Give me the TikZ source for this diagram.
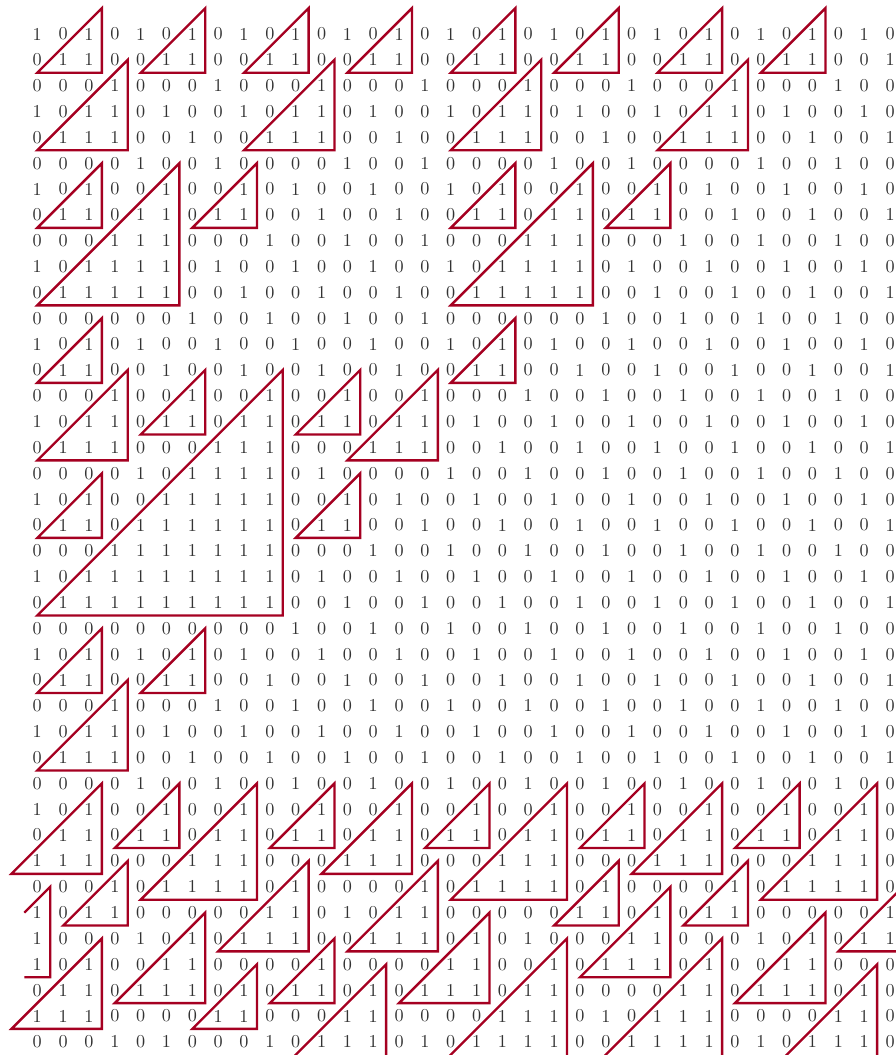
\documentclass[tikz,border=0pt]{standalone}
\usepackage{xcolor}
\usepackage{tikz}
\definecolor{trired}{HTML}{A50021}
\definecolor{bitgrey}{HTML}{333333}

\begin{document}
\begin{tikzpicture}[x=0.5cm, y=-0.5cm,
    bit/.style={inner sep=0pt, text=bitgrey},
    tri/.style={draw=trired, line width=1.3pt}]

  % ---- frame: the margins round the grid of bits --------------------------
  \useasboundingbox (-0.443,-0.316) rectangle (34.23,40.51);

  % ---- the bits, one row of 34 per line ------------------------------------
  \foreach \bits [count=\r] in {
    {1,0,1,0,1,0,1,0,1,0,1,0,1,0,1,0,1,0,1,0,1,0,1,0,1,0,1,0,1,0,1,0,1,0},
    {0,1,1,0,0,1,1,0,0,1,1,0,0,1,1,0,0,1,1,0,0,1,1,0,0,1,1,0,0,1,1,0,0,1},
    {0,0,0,1,0,0,0,1,0,0,0,1,0,0,0,1,0,0,0,1,0,0,0,1,0,0,0,1,0,0,0,1,0,0},
    {1,0,1,1,0,1,0,0,1,0,1,1,0,1,0,0,1,0,1,1,0,1,0,0,1,0,1,1,0,1,0,0,1,0},
    {0,1,1,1,0,0,1,0,0,1,1,1,0,0,1,0,0,1,1,1,0,0,1,0,0,1,1,1,0,0,1,0,0,1},
    {0,0,0,0,1,0,0,1,0,0,0,0,1,0,0,1,0,0,0,0,1,0,0,1,0,0,0,0,1,0,0,1,0,0},
    {1,0,1,0,0,1,0,0,1,0,1,0,0,1,0,0,1,0,1,0,0,1,0,0,1,0,1,0,0,1,0,0,1,0},
    {0,1,1,0,1,1,0,1,1,0,0,1,0,0,1,0,0,1,1,0,1,1,0,1,1,0,0,1,0,0,1,0,0,1},
    {0,0,0,1,1,1,0,0,0,1,0,0,1,0,0,1,0,0,0,1,1,1,0,0,0,1,0,0,1,0,0,1,0,0},
    {1,0,1,1,1,1,0,1,0,0,1,0,0,1,0,0,1,0,1,1,1,1,0,1,0,0,1,0,0,1,0,0,1,0},
    {0,1,1,1,1,1,0,0,1,0,0,1,0,0,1,0,0,1,1,1,1,1,0,0,1,0,0,1,0,0,1,0,0,1},
    {0,0,0,0,0,0,1,0,0,1,0,0,1,0,0,1,0,0,0,0,0,0,1,0,0,1,0,0,1,0,0,1,0,0},
    {1,0,1,0,1,0,0,1,0,0,1,0,0,1,0,0,1,0,1,0,1,0,0,1,0,0,1,0,0,1,0,0,1,0},
    {0,1,1,0,0,1,0,0,1,0,0,1,0,0,1,0,0,1,1,0,0,1,0,0,1,0,0,1,0,0,1,0,0,1},
    {0,0,0,1,0,0,1,0,0,1,0,0,1,0,0,1,0,0,0,1,0,0,1,0,0,1,0,0,1,0,0,1,0,0},
    {1,0,1,1,0,1,1,0,1,1,0,1,1,0,1,1,0,1,0,0,1,0,0,1,0,0,1,0,0,1,0,0,1,0},
    {0,1,1,1,0,0,0,1,1,1,0,0,0,1,1,1,0,0,1,0,0,1,0,0,1,0,0,1,0,0,1,0,0,1},
    {0,0,0,0,1,0,1,1,1,1,0,1,0,0,0,0,1,0,0,1,0,0,1,0,0,1,0,0,1,0,0,1,0,0},
    {1,0,1,0,0,1,1,1,1,1,0,0,1,0,1,0,0,1,0,0,1,0,0,1,0,0,1,0,0,1,0,0,1,0},
    {0,1,1,0,1,1,1,1,1,1,0,1,1,0,0,1,0,0,1,0,0,1,0,0,1,0,0,1,0,0,1,0,0,1},
    {0,0,0,1,1,1,1,1,1,1,0,0,0,1,0,0,1,0,0,1,0,0,1,0,0,1,0,0,1,0,0,1,0,0},
    {1,0,1,1,1,1,1,1,1,1,0,1,0,0,1,0,0,1,0,0,1,0,0,1,0,0,1,0,0,1,0,0,1,0},
    {0,1,1,1,1,1,1,1,1,1,0,0,1,0,0,1,0,0,1,0,0,1,0,0,1,0,0,1,0,0,1,0,0,1},
    {0,0,0,0,0,0,0,0,0,0,1,0,0,1,0,0,1,0,0,1,0,0,1,0,0,1,0,0,1,0,0,1,0,0},
    {1,0,1,0,1,0,1,0,1,0,0,1,0,0,1,0,0,1,0,0,1,0,0,1,0,0,1,0,0,1,0,0,1,0},
    {0,1,1,0,0,1,1,0,0,1,0,0,1,0,0,1,0,0,1,0,0,1,0,0,1,0,0,1,0,0,1,0,0,1},
    {0,0,0,1,0,0,0,1,0,0,1,0,0,1,0,0,1,0,0,1,0,0,1,0,0,1,0,0,1,0,0,1,0,0},
    {1,0,1,1,0,1,0,0,1,0,0,1,0,0,1,0,0,1,0,0,1,0,0,1,0,0,1,0,0,1,0,0,1,0},
    {0,1,1,1,0,0,1,0,0,1,0,0,1,0,0,1,0,0,1,0,0,1,0,0,1,0,0,1,0,0,1,0,0,1},
    {0,0,0,0,1,0,0,1,0,0,1,0,0,1,0,0,1,0,0,1,0,0,1,0,0,1,0,0,1,0,0,1,0,0},
    {1,0,1,0,0,1,0,0,1,0,0,1,0,0,1,0,0,1,0,0,1,0,0,1,0,0,1,0,0,1,0,0,1,0},
    {0,1,1,0,1,1,0,1,1,0,1,1,0,1,1,0,1,1,0,1,1,0,1,1,0,1,1,0,1,1,0,1,1,0},
    {1,1,1,0,0,0,1,1,1,0,0,0,1,1,1,0,0,0,1,1,1,0,0,0,1,1,1,0,0,0,1,1,1,0},
    {0,0,0,1,0,1,1,1,1,0,1,0,0,0,0,1,0,1,1,1,1,0,1,0,0,0,0,1,0,1,1,1,1,0},
    {1,0,1,1,0,0,0,0,0,1,1,0,1,0,1,1,0,0,0,0,0,1,1,0,1,0,1,1,0,0,0,0,0,1},
    {1,0,0,0,1,0,1,0,1,1,1,0,0,1,1,1,0,1,0,1,0,0,0,1,1,0,0,0,1,0,1,0,1,1},
    {1,0,1,0,0,1,1,0,0,0,0,1,0,0,0,0,1,1,0,0,1,0,1,1,1,0,1,0,0,1,1,0,0,0},
    {0,1,1,0,1,1,1,0,1,0,1,1,0,1,0,1,1,1,0,1,1,0,0,0,0,1,1,0,1,1,1,0,1,0},
    {1,1,1,0,0,0,0,1,1,0,0,0,1,1,0,0,0,0,1,1,1,0,1,0,1,1,1,0,0,0,0,1,1,0},
    {0,0,0,1,0,1,0,0,0,1,0,1,1,1,0,1,0,1,1,1,1,0,0,1,1,1,1,0,1,0,1,1,1,0}}{
    \foreach \b [count=\c] in \bits{
      \node[bit] (b\r-\c) at (\c,\r) {\b};}}

  % ---- triangles round the blocks of ones ----------------------------------
  % r/c/n: bottom-right bit in row r, column c, n rows high.
  % The last four run past row 40 and are cut off by the clip.
  \begin{scope}
    \clip (-0.443,-0.316) rectangle (34.23,40.51);
    \foreach \r/\c/\n in {2/3/2, 2/7/2, 2/11/2, 2/15/2, 2/19/2, 2/23/2, 2/27/2, 2/31/2,
                          5/4/3, 5/12/3, 5/20/3, 5/28/3,
                          8/3/2, 8/9/2, 8/19/2, 8/25/2, 11/6/5, 11/22/5,
                          14/3/2, 14/19/2, 16/7/2, 16/13/2, 17/4/3, 17/16/3,
                          20/3/2, 20/13/2, 23/10/9, 26/3/2, 26/7/2, 29/4/3,
                          32/6/2, 32/12/2, 32/18/2, 32/24/2, 32/30/2,
                          33/3/3, 33/15/3, 33/27/3, 34/9/4, 34/21/4, 34/33/4,
                          35/4/2, 35/23/2, 35/28/2, 36/11/3, 36/16/3, 36/34/2,
                          37/25/3, 38/7/3, 38/12/2, 38/18/3, 38/31/3, 39/3/3, 39/9/2,
                          44/14/7, 44/21/8, 44/27/8, 44/33/7}{
      \draw[tri] (\c-\n,\r+0.5) -- (\c+0.5,\r-\n) -- (\c+0.5,\r+0.5) -- cycle;}

    % the ones stacked in the first column
    \draw[tri] (0.5,35) -- (1.5,34) -- (1.5,37.5) -- (0.5,37.5);
  \end{scope}
\end{tikzpicture}
\end{document}
